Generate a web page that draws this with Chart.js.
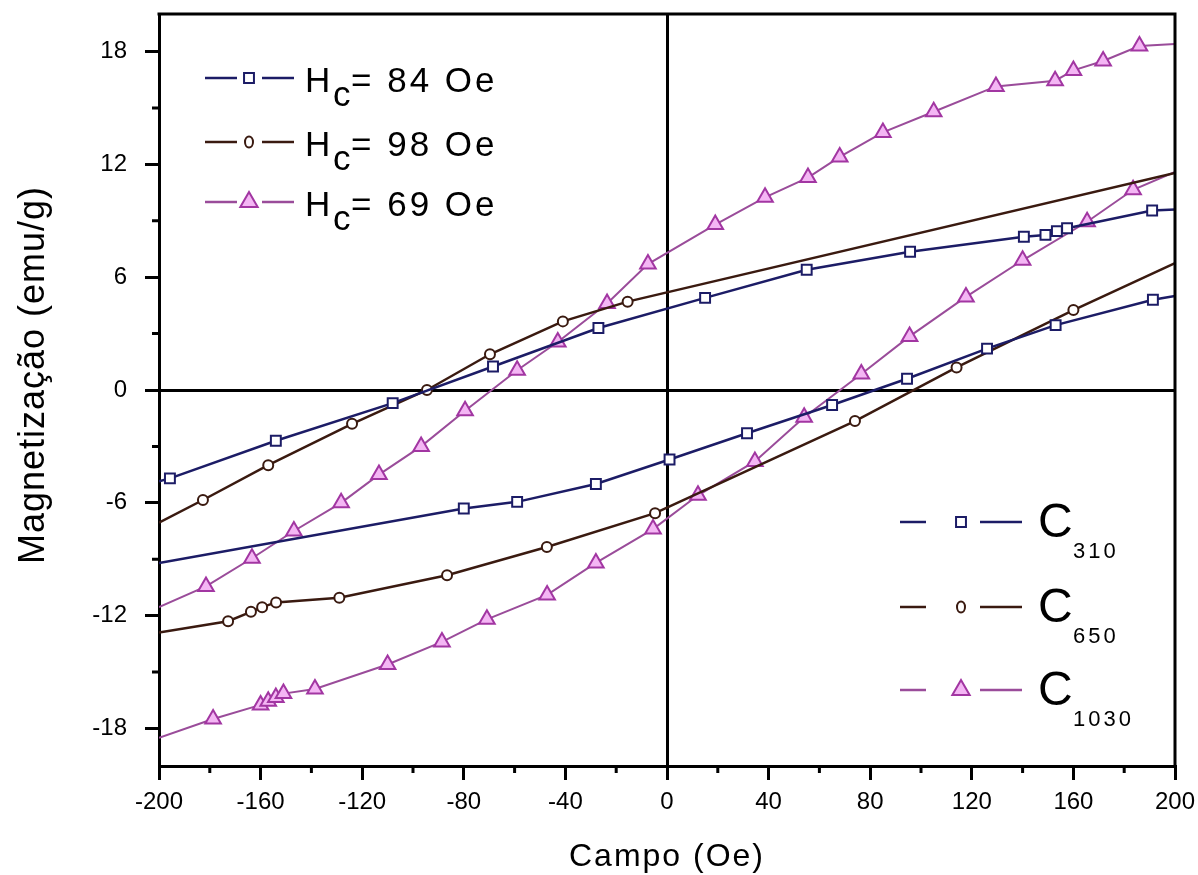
<!DOCTYPE html>
<html>
<head>
<meta charset="utf-8">
<title>Magnetização x Campo</title>
<script src="https://cdn.jsdelivr.net/npm/chart.js@4/dist/chart.umd.min.js"></script>
<style>
html,body{margin:0;padding:0;background:#fff;}
</style>
</head>
<body>
<canvas id="hyst" width="1198" height="875"></canvas>
<script>
const FONT = "'Liberation Sans', Arial, sans-serif";

// axis ticks
const xTicks = [-200, -160, -120, -80, -40, 0, 40, 80, 120, 160, 200];
const xMinor = [-180, -140, -100, -60, -20, 20, 60, 100, 140, 180];
const yTicks = [-18, -12, -6, 0, 6, 12, 18];
const yMinor = [-15, -9, -3, 3, 9, 15];

// legends
const sampleSub = ["310", "650", "1030"];
const coercive = ["84", "98", "69"];

// C310 - branch coming down from +200 Oe
const c310DownX = [200, 191, 157.5, 153.5, 149, 140.5, 95.7, 55, 15, -27, -68.5, -108, -154, -195.7, -200];
const c310DownY = [9.6, 9.55, 8.6, 8.45, 8.25, 8.15, 7.35, 6.4, 4.9, 3.3, 1.25, -0.7, -2.7, -4.7, -4.85];
// C310 - branch going up from -200 Oe
const c310UpX = [-200, -80, -59, -28, 1, 31.5, 65, 94.5, 126, 153, 191.3, 200];
const c310UpY = [-9.2, -6.3, -5.95, -5.0, -3.7, -2.3, -0.8, 0.6, 2.2, 3.45, 4.8, 5.0];

// C650
const c650DownX = [200, -15.5, -41, -69.7, -94.5, -124, -157, -182.7, -200];
const c650DownY = [11.55, 4.7, 3.65, 1.9, 0.0, -1.8, -4.0, -5.85, -7.05];
const c650UpX = [-200, -172.8, -163.8, -159.4, -153.9, -129, -86.6, -47.3, -4.7, 74, 114, 160, 200];
const c650UpY = [-12.9, -12.3, -11.8, -11.55, -11.3, -11.05, -9.85, -8.35, -6.55, -1.65, 1.2, 4.25, 6.75];

// C1030
const c1030DownX = [200, 186, 171.7, 160, 152.8, 129.5, 105, 85, 68, 55.5, 38.6, 19, -7.5, -23.6, -43, -59, -79.5, -96.8, -113.4, -128.3, -146.9, -163.4, -181.5, -200];
const c1030DownY = [18.4, 18.3, 17.5, 17.0, 16.45, 16.15, 14.8, 13.7, 12.4, 11.3, 10.25, 8.8, 6.7, 4.6, 2.55, 1.05, -1.1, -3.0, -4.5, -6.0, -7.5, -8.95, -10.45, -11.55];
const c1030UpX = [-200, -178.7, -160, -157, -154, -151, -138.6, -110, -88.6, -70.9, -47.2, -28, -5.5, 12.2, 34.6, 54, 76.5, 95.5, 117.7, 140, 165.4, 183.5, 200];
const c1030UpY = [-18.5, -17.5, -16.75, -16.55, -16.35, -16.15, -15.9, -14.6, -13.4, -12.2, -10.9, -9.2, -7.4, -5.6, -3.8, -1.45, 0.85, 2.85, 4.95, 6.9, 8.95, 10.65, 11.6];

// look of each sample
const looks = [
  { line: "#1c1c66", stroke: "#1c1c66", fill: "#ffffff", shape: "rect", r: 7, lw: 2.5 },
  { line: "#3a1a10", stroke: "#3a1a10", fill: "#ffffff", shape: "circle", r: 5, lw: 2.5 },
  { line: "#9a4c9a", stroke: "#a236a2", fill: "#f4b6f4", shape: "triangle", r: 9, lw: 2 }
];

function pts(xs, ys) {
  return xs.map((x, i) => ({ x: x, y: ys[i] }));
}

function branch(xs, ys, k) {
  const s = looks[k];
  return {
    data: pts(xs, ys),
    borderColor: s.line,
    borderWidth: s.lw,
    pointStyle: s.shape,
    pointBackgroundColor: s.fill,
    pointBorderColor: s.stroke,
    pointBorderWidth: 2,
    // no marker where the curve leaves the frame
    pointRadius: c => (Math.abs(c.raw.x) >= 200 ? 0 : s.r),
    tension: 0,
    fill: false
  };
}

function marker(ctx, s, x, y, r) {
  ctx.save();
  ctx.lineWidth = 2;
  ctx.strokeStyle = s.stroke;
  ctx.fillStyle = s.fill;
  ctx.beginPath();
  if (s.shape === "rect") {
    const h = r * Math.SQRT1_2;
    ctx.rect(x - h, y - h, 2 * h, 2 * h);
  } else if (s.shape === "circle") {
    ctx.ellipse(x, y, r * 0.8, r * 1.1, 0, 0, Math.PI * 2);
  } else {
    ctx.moveTo(x, y - r);
    ctx.lineTo(x + r * 0.866, y + r / 2);
    ctx.lineTo(x - r * 0.866, y + r / 2);
    ctx.closePath();
  }
  ctx.fill();
  ctx.stroke();
  ctx.restore();
}

function seg(ctx, color, x1, x2, y, w) {
  ctx.save();
  ctx.strokeStyle = color;
  ctx.lineWidth = w;
  ctx.beginPath();
  ctx.moveTo(x1, y);
  ctx.lineTo(x2, y);
  ctx.stroke();
  ctx.restore();
}

function spaced(ctx, text, x, y, font, spacing) {
  ctx.font = font;
  ctx.letterSpacing = spacing + "px";
  ctx.fillText(text, x, y);
  ctx.letterSpacing = "0px";
}

const extras = {
  id: "extras",
  afterDatasetsDraw(chart) {
    const ctx = chart.ctx;
    const a = chart.chartArea;
    const sx = chart.scales.x, sy = chart.scales.y;
    ctx.save();
    ctx.strokeStyle = "#000";
    ctx.lineWidth = 3;
    // top and right side of the frame
    ctx.beginPath();
    ctx.moveTo(a.left - 1.5, a.top);
    ctx.lineTo(a.right, a.top);
    ctx.lineTo(a.right, a.bottom);
    ctx.stroke();
    // minor ticks
    ctx.beginPath();
    xMinor.forEach(v => {
      const px = sx.getPixelForValue(v);
      ctx.moveTo(px, a.bottom);
      ctx.lineTo(px, a.bottom + 7);
    });
    yMinor.forEach(v => {
      const py = sy.getPixelForValue(v);
      ctx.moveTo(a.left, py);
      ctx.lineTo(a.left - 7, py);
    });
    ctx.stroke();
    ctx.restore();
  },
  afterDraw(chart) {
    const ctx = chart.ctx;
    const a = chart.chartArea;
    ctx.save();
    ctx.fillStyle = "#000";
    ctx.textBaseline = "alphabetic";
    ctx.textAlign = "left";

    // axis titles
    ctx.font = "32px " + FONT;
    ctx.letterSpacing = "2px";
    const tw = ctx.measureText("Campo (Oe)").width;
    ctx.fillText("Campo (Oe)", (a.left + a.right) / 2 - tw / 2, 866);
    ctx.font = "36px " + FONT;
    ctx.letterSpacing = "1px";
    const yw = ctx.measureText("Magnetização (emu/g)").width;
    ctx.save();
    ctx.translate(44, 375 + yw / 2);
    ctx.rotate(-Math.PI / 2);
    ctx.fillText("Magnetização (emu/g)", 0, 0);
    ctx.restore();
    ctx.letterSpacing = "0px";

    // legend with coercive fields (top left)
    const rows1 = [78, 142, 202];
    looks.forEach((s, k) => {
      const y = rows1[k];
      seg(ctx, s.line, 205, 237, y, 2.5);
      seg(ctx, s.line, 262, 294, y, 2.5);
      marker(ctx, s, 249, y, k === 2 ? 10 : k === 0 ? 7 : 5);
      ctx.fillStyle = "#000";
      spaced(ctx, "H", 305, y + 14, "35px " + FONT, 0);
      spaced(ctx, "c", 333, y + 28, "35px " + FONT, 0);
      spaced(ctx, "= " + coercive[k] + " Oe", 351, y + 14, "35px " + FONT, 3);
    });

    // legend with samples (bottom right)
    const rows2 = [522, 607, 690];
    looks.forEach((s, k) => {
      const y = rows2[k];
      seg(ctx, s.line, 900, 926, y, 2.5);
      seg(ctx, s.line, 980, 1022, y, 2.5);
      marker(ctx, s, 961, y, k === 2 ? 10 : k === 0 ? 7 : 5);
      ctx.fillStyle = "#000";
      spaced(ctx, "C", 1038, y + 15, "48px " + FONT, 0);
      spaced(ctx, sampleSub[k], 1073, y + 36, "22px " + FONT, 3);
    });
    ctx.restore();
  }
};

const zeroLine = c => (c.tick && c.tick.value === 0 ? "#000" : "rgba(0,0,0,0)");

new Chart(document.getElementById("hyst"), {
  type: "line",
  data: {
    datasets: [
      branch(c310DownX, c310DownY, 0),
      branch(c310UpX, c310UpY, 0),
      branch(c650DownX, c650DownY, 1),
      branch(c650UpX, c650UpY, 1),
      branch(c1030DownX, c1030DownY, 2),
      branch(c1030UpX, c1030UpY, 2)
    ]
  },
  options: {
    responsive: false,
    animation: false,
    devicePixelRatio: 1,
    layout: { padding: { top: 14, right: 23, left: 0, bottom: 0 } },
    plugins: {
      legend: { display: false },
      tooltip: { enabled: false },
      title: { display: false }
    },
    scales: {
      x: {
        type: "linear",
        min: -200,
        max: 200,
        afterBuildTicks: s => { s.ticks = xTicks.map(v => ({ value: v })); },
        afterFit: s => { s.height = 109; s.paddingLeft = 0; s.paddingRight = 0; },
        border: { display: true, color: "#000", width: 3 },
        grid: { color: zeroLine, lineWidth: 3, drawTicks: true, tickLength: 14, tickColor: "#000", tickWidth: 3 },
        ticks: { color: "#000", font: { family: FONT, size: 24 }, padding: 8, maxRotation: 0, autoSkip: false }
      },
      y: {
        type: "linear",
        min: -20,
        max: 20,
        afterBuildTicks: s => { s.ticks = yTicks.map(v => ({ value: v })); },
        afterFit: s => { s.width = 159; s.paddingTop = 0; s.paddingBottom = 0; },
        border: { display: true, color: "#000", width: 3 },
        grid: { color: zeroLine, lineWidth: 3, drawTicks: true, tickLength: 14, tickColor: "#000", tickWidth: 3 },
        ticks: { color: "#000", font: { family: FONT, size: 24 }, padding: 18 }
      }
    }
  },
  plugins: [extras]
});
</script>
</body>
</html>
